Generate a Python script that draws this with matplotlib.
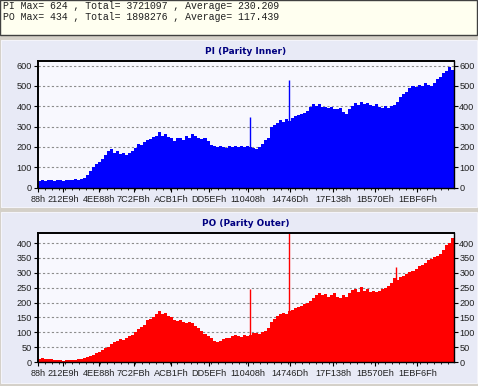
import numpy as np
import matplotlib
matplotlib.use("Agg")
import matplotlib.pyplot as plt
from matplotlib.patches import Rectangle
from matplotlib.ticker import FixedLocator, MultipleLocator

# address range shown on the x axis
addr_lo = 0x88
addr_hi = 0x21B000

tick_addrs = [0x88, 0x212E9, 0x4EE88, 0x7C2FB, 0xACB1F, 0xDD5EF,
              0x110408, 0x14746D, 0x17F138, 0x1B570E, 0x1EBF6F]

# PI (parity inner) counts, read left to right
pi_vals = [32, 38, 35, 40, 36, 34, 38, 37, 33, 36, 40, 38, 42, 40, 45,
           48, 60, 80, 100, 115, 125, 140, 160, 178, 188, 170, 178, 165, 172, 160,
           170, 180, 195, 215, 208, 225, 232, 240, 248, 252, 272, 255, 266, 250, 245,
           230, 242, 246, 235, 252, 244, 262, 254, 246, 240, 242, 230, 210, 205, 198,
           206, 200, 194, 206, 200, 206, 198, 205, 200, 206, 200, 195, 188, 200, 215,
           235, 245, 300, 306, 316, 332, 324, 336, 330, 342, 350, 356, 362, 366, 376,
           396, 412, 400, 410, 398, 395, 390, 396, 388, 386, 392, 374, 362, 386, 402,
           416, 404, 422, 410, 416, 404, 400, 412, 396, 390, 402, 394, 400, 406, 422,
           446, 462, 470, 492, 502, 494, 506, 498, 512, 504, 500, 516, 532, 546, 562,
           572, 592, 576]

# PO (parity outer) counts
po_vals = [10, 12, 9, 11, 10, 8, 7, 6, 5, 6, 7, 8, 7, 9, 10,
           13, 17, 20, 25, 30, 35, 40, 46, 52, 60, 66, 72, 76, 74, 80,
           86, 92, 100, 112, 118, 126, 140, 146, 150, 160, 172, 160, 166, 155, 150,
           140, 138, 142, 135, 130, 136, 130, 122, 115, 105, 95, 88, 82, 72, 66,
           72, 78, 82, 80, 86, 90, 88, 85, 90, 88, 92, 96, 98, 95, 100,
           105, 115, 135, 146, 156, 160, 166, 162, 170, 176, 180, 186, 190, 196, 200,
           206, 216, 226, 232, 224, 230, 220, 226, 232, 220, 214, 226, 220, 232, 242,
           246, 236, 252, 240, 246, 236, 240, 234, 240, 246, 250, 256, 266, 282, 276,
           286, 290, 296, 302, 306, 312, 322, 326, 332, 342, 346, 352, 356, 362, 376,
           392, 402, 418]

# single-address spikes (address, count)
pi_spike_addr = [0x112A00, 0x146000]
pi_spike_vals = [347, 531]
po_spike_addr = [0x112A00, 0x146000, 0x1CFC00]
po_spike_vals = [245, 434, 318]

pi_max = 624
po_max = 434
stats = [("PI", 624, 3721097, 230.209), ("PO", 434, 1898276, 117.439)]

W, H = 478, 386
fig = plt.figure(figsize=(W / 100, H / 100), dpi=100)
fig.patch.set_facecolor("#D4D0C8")


def px_rect(x0, y0, x1, y1, **kw):
    # rectangle given in pixel coords from the top-left corner
    r = Rectangle((x0 / W, 1 - y1 / H), (x1 - x0) / W, (y1 - y0) / H,
                  transform=fig.transFigure, zorder=-10, **kw)
    fig.patches.append(r)


px_rect(0, 0, 476.5, 35, facecolor="#FFFFF0", edgecolor="#404040", lw=1.0)
px_rect(1, 40, 477, 207, facecolor="#E8EAF6", edgecolor="#F4F4FA", lw=0.8)
px_rect(1, 212, 477, 383, facecolor="#E8EAF6", edgecolor="#F4F4FA", lw=0.8)

for k, (name, mx, tot, avg) in enumerate(stats):
    fig.text(3 / W, 1 - (6 + 11 * k) / H,
             f"{name} Max= {mx} , Total= {tot} , Average= {avg}",
             family="Liberation Mono", fontsize=7.1, color="#202020",
             ha="left", va="center")


def panel(top, bottom, vals, spike_addr, spike_vals, ymax, ystep, color, title, title_y):
    ax = fig.add_axes([37.7 / W, 1 - bottom / H, (453.7 - 37.7) / W, (bottom - top) / H])
    ax.set_facecolor("#F8F8FE")
    n = len(vals)
    xs = np.linspace(addr_lo, addr_hi, n, endpoint=False)
    ax.bar(xs, vals, width=(addr_hi - addr_lo) / n, align="edge",
           color=color, linewidth=0, zorder=2)
    ax.vlines(spike_addr, 0, spike_vals, color=color, lw=1.0, zorder=2)
    ax.set_xlim(addr_lo, addr_hi)
    ax.set_ylim(0, ymax)
    ax.yaxis.set_major_locator(MultipleLocator(ystep))
    ax.xaxis.set_major_locator(FixedLocator(tick_addrs))
    ax.set_xticklabels([f"{a:X}h" for a in tick_addrs])
    ax.xaxis.set_minor_locator(MultipleLocator(0x9000))
    ax.yaxis.grid(True, linestyle=(0, (2, 2)), color="#8C8C8C", lw=0.8, zorder=1)
    ax.set_axisbelow(True)
    ax.tick_params(axis="y", left=True, right=True, labelleft=True, labelright=True,
                   direction="out", length=3, width=0.8, pad=1,
                   labelsize=6.6, labelcolor="#202020")
    ax.tick_params(axis="x", which="major", direction="out", length=3, width=0.8,
                   pad=2, labelsize=6.6, labelcolor="#202020")
    ax.tick_params(axis="x", which="minor", direction="out", length=1.5, width=0.6)
    for lab in ax.get_xticklabels() + ax.get_yticklabels():
        lab.set_family("Liberation Sans")
    for side, s in ax.spines.items():
        s.set_color("#000000")
        s.set_linewidth(1.4 if side in ("left", "top") else 1.0)
    fig.text((37.7 + 453.7) / 2 / W, 1 - title_y / H, title,
             fontsize=6.4, fontweight="bold", color="#000080",
             ha="center", va="center")
    return ax


panel(60.7, 187.7, pi_vals, pi_spike_addr, pi_spike_vals, pi_max, 100,
      "#0000FF", "PI (Parity Inner)", 51.5)
panel(233, 362, po_vals, po_spike_addr, po_spike_vals, po_max, 50,
      "#FF0000", "PO (Parity Outer)", 223)

fig.savefig("out.png", dpi=100)
